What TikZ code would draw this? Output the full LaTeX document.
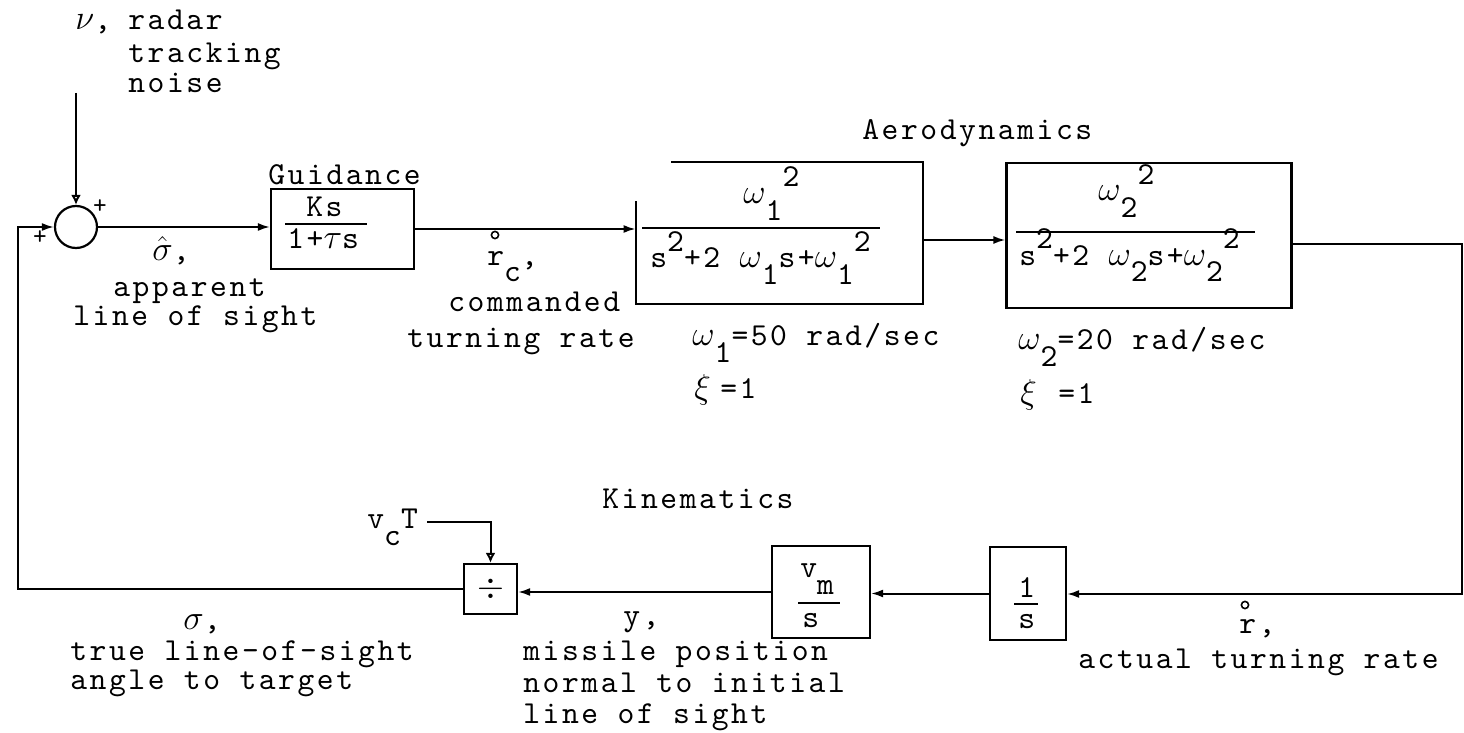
\documentclass[tikz,border=0pt]{standalone}
\usepackage{fontspec}
\newfontfamily\tyf{lmmono10-regular.otf}[LetterSpace=8]
\usetikzlibrary{arrows.meta}
\newcommand{\tdn}[1]{\raisebox{-8.5pt}{#1}}
\newcommand{\tup}[1]{\raisebox{8.5pt}{#1}}
\newcommand{\tx}{\fontsize{16}{16.5}\selectfont\tyf}
\tikzset{
  lbl/.style={inner sep=0pt, anchor=base west, font=\tx},
  blk/.style={draw, line width=1.1pt, inner sep=0pt},
  wire/.style={line width=1pt},
  arr/.style={wire, -{Latex[length=6pt,width=4pt]}},
  oarr/.style={wire, -{Latex[open,length=5pt,width=5pt]}},
  ring/.style={line width=0.8pt},
  bar/.style={line width=1.2pt}
}
\begin{document}
\begin{tikzpicture}[x=0.5pt,y=-0.5pt]
\useasboundingbox (0,0) rectangle (1464,733);

% ---------- top row ----------
\node[lbl] (nu) at (75,30) {$\nu$,};
\node[lbl] (radar) at (128,30) {radar};
\node[lbl] (track) at (128,63) {tracking};
\node[lbl] (noise) at (128,93) {noise};

\node[draw, circle, line width=1.1pt, inner sep=0pt, minimum size=21pt] (sum) at (76,227) {};
\node[font=\fontsize{13}{13}\selectfont\tyf, inner sep=0pt] (pl1) at (100,207) {+};
\node[font=\fontsize{13}{13}\selectfont\tyf, inner sep=0pt] (pl2) at (40,238) {+};

\node[blk, minimum width=71.5pt, minimum height=40pt] (guid) at (342.5,229) {};
\node[lbl] (guidt) at (268,185) {Guidance};
\node[lbl] (ks) at (306,217) {Ks};
\draw[bar] (285,224) -- (367,224);
\node[lbl] (tau) at (287,249) {1+$\tau$s};

\node[lbl] (sighat) at (152,261) {$\hat{\sigma}$,};
\node[lbl] (app) at (113,297) {apparent};
\node[lbl] (los1) at (73,326) {line of sight};

% aerodynamics block 1 (open top-left corner)
\node[minimum width=143.5pt, minimum height=71pt, inner sep=0pt] (aero1) at (779.5,230) {};
\draw[line width=1.1pt] (671,162) -- (923,162) -- (923,304) -- (636,304) -- (636,201);
\node[lbl] (aerot) at (862,140) {Aerodynamics};
\node[lbl] (num1) at (743,204) {$\omega$\tdn{1}\tup{2}};
\draw[bar] (642,228) -- (880,228);
\node[lbl] (den1) at (650,268) {s\tup{2}+2 $\omega$\tdn{1}s+$\omega$\tdn{1}\tup{2}};

% aerodynamics block 2
\node[blk, minimum width=142.5pt, minimum height=72.5pt] (aero2) at (1149,235.5) {};
\node[lbl] (num2) at (1098,201) {$\omega$\tdn{2}\tup{2}};
\draw[bar] (1016,232) -- (1255,232);
\node[lbl] (den2) at (1019,265) {s\tup{2}+2 $\omega$\tdn{2}s+$\omega$\tdn{2}\tup{2}};

\node[lbl] (rc) at (487,265) {r\tdn{c},};
\draw[ring] (495,235) circle (1.8pt);
\node[lbl] (cmd) at (448,312) {commanded};
\node[lbl] (trate) at (407,347) {turning rate};

\node[lbl] (w1) at (692,345) {$\omega$\tdn{1}=50 rad/sec};
\node[lbl] (xi1) at (694,398) {$\xi$};
\node[lbl] (xi1v) at (720,398) {=1};
\node[lbl] (w2) at (1018,350) {$\omega$\tdn{2}=20 rad/sec};
\node[lbl] (xi2) at (1020,403) {$\xi$};
\node[lbl] (xi2v) at (1058,403) {=1};

% ---------- bottom row ----------
\node[lbl] (kin) at (602,508) {Kinematics};

\node[blk, minimum width=49pt, minimum height=46pt] (vms) at (821,592) {};
\node[lbl] (vm) at (800,577) {v\tdn{m}};
\draw[bar] (798,603) -- (840,603);
\node[lbl] (vs) at (802,627) {s};

\node[blk, minimum width=38pt, minimum height=46.5pt] (ints) at (1028,593.5) {};
\node[lbl] (one) at (1018,597) {1};
\draw[bar] (1014,604) -- (1038,604);
\node[lbl] (is) at (1018,628) {s};

\node[blk, minimum width=26.5pt, minimum height=25pt, font=\tx] (div) at (490.5,589) {$\div$};

\node[lbl] (vct) at (367,528) {v\tdn{c}T};
\coordinate (vcend) at (427,522);

\node[lbl] (sig) at (183,629) {$\sigma$,};
\node[lbl] (tl1) at (70,660) {true line-of-sight};
\node[lbl] (tl2) at (70,689) {angle to target};

\node[lbl] (yl) at (623,625) {y,};
\node[lbl] (mp1) at (523,660) {missile position};
\node[lbl] (mp2) at (523,692) {normal to initial};
\node[lbl] (mp3) at (523,723) {line of sight};

\node[lbl] (rr) at (1239,633) {r,};
\draw[ring] (1245,605) circle (1.8pt);
\node[lbl] (atr) at (1078,668) {actual turning rate};

% ---------- connectors ----------
\coordinate (nz) at (76,93);
\draw[oarr] (nz) -- (sum.north);
\draw[arr] (sum.east) -- (sum.east -| guid.west);
\draw[arr] (guid.east) -- (guid.east -| aero1.west);
\coordinate (a2in) at ([yshift=-2.25pt]aero2.west);
\draw[arr] (a2in -| aero1.east) -- (a2in);
\coordinate (rtop) at (1462,244);
\coordinate (rbot) at (1462,594);
\draw[arr] (aero2.east |- rtop) -- (rtop) -- (rbot) -- (rbot -| ints.east);
\draw[arr] (ints.west) -- (ints.west -| vms.east);
\draw[arr] (vms.west) -- (vms.west -| div.east);
\draw[oarr] (vcend) -| (div.north);
\coordinate (fbl) at (18,589);
\draw[arr] (div.west) -- (fbl) -- (fbl |- sum.west) -- (sum.west);
\end{tikzpicture}
\end{document}
